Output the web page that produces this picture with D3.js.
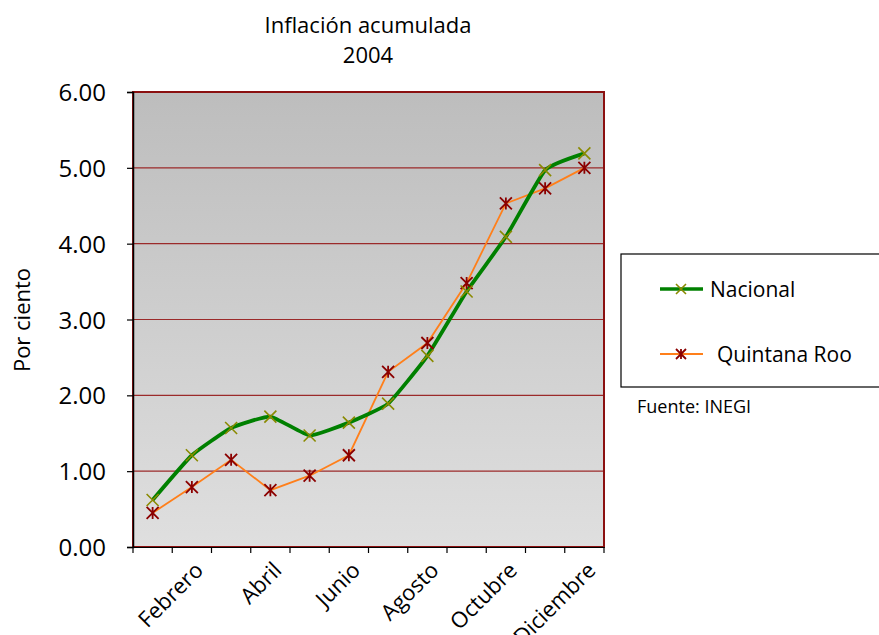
<!DOCTYPE html>
<html><head><meta charset="utf-8">
<script src="https://cdn.jsdelivr.net/npm/d3@7"></script>
<style>body{margin:0;background:#fff}svg text{font-family:"Open Sans","Liberation Sans",sans-serif;fill:#000}</style>
</head><body><svg id="c" width="879" height="635"></svg>
<script>
const months = ["Enero","Febrero","Marzo","Abril","Mayo","Junio","Julio","Agosto","Septiembre","Octubre","Noviembre","Diciembre"];
const nacional = [0.62,1.21,1.57,1.72,1.47,1.64,1.89,2.52,3.37,4.09,4.97,5.19];
const quintanaRoo = [0.45,0.79,1.15,0.75,0.94,1.21,2.31,2.69,3.48,4.53,4.73,5.00];
const yTicks = [0,1,2,3,4,5,6];
const shownLabels = ["Febrero","Abril","Junio","Agosto","Octubre","Diciembre"];

const svg = d3.select("#c");
const L=133,R=604,T=92,B=547;
const x = d3.scaleBand().domain(months).range([L,R]);
const y = d3.scaleLinear().domain([0,6]).range([B,T]);

const defs = svg.append("defs");
const g = defs.append("linearGradient").attr("id","bg").attr("x1",0).attr("y1",0).attr("x2",0).attr("y2",1);
g.append("stop").attr("offset","0%").attr("stop-color","#bdbdbd");
g.append("stop").attr("offset","100%").attr("stop-color","#dfdfdf");
svg.append("rect").attr("x",L).attr("y",T).attr("width",R-L).attr("height",B-T).attr("fill","url(#bg)");

// gridlines
svg.append("g").selectAll("line").data(yTicks.filter(d=>d>0&&d<6)).join("line")
 .attr("x1",L).attr("x2",R).attr("y1",d=>y(d)).attr("y2",d=>y(d))
 .attr("stroke","#9b2a2a").attr("stroke-width",1.2);
// border
svg.append("rect").attr("x",L).attr("y",T).attr("width",R-L).attr("height",B-T)
 .attr("fill","none").attr("stroke","#8b1010").attr("stroke-width",2);

// y axis
const ya = svg.append("g").attr("transform",`translate(${L},0)`)
 .call(d3.axisLeft(y).tickValues(yTicks).tickFormat(d3.format(".2f")).tickSize(6).tickPadding(21));
ya.select(".domain").attr("stroke","#000").attr("stroke-width",1.5);
ya.selectAll(".tick line").attr("stroke","#000").attr("stroke-width",1.2);
ya.selectAll(".tick text").style("font-size","24px").attr("dy","0.36em");

// x axis
const xa = svg.append("g").attr("transform",`translate(0,${B})`)
 .call(d3.axisBottom(x).tickSize(0).tickFormat(""));
xa.select(".domain").attr("stroke","#000").attr("stroke-width",1.2);
const edges = months.map(m=>x(m)).concat([R]);
xa.selectAll(".edge").data(edges).join("line").attr("class","edge")
 .attr("x1",d=>d).attr("x2",d=>d).attr("y1",0).attr("y2",6).attr("stroke","#000").attr("stroke-width",1.2);
xa.selectAll(".lbl").data(shownLabels).join("text").attr("class","lbl")
 .attr("transform",d=>`translate(${x(d)+x.bandwidth()/2+1},${13}) rotate(-45)`)
 .attr("text-anchor","end").attr("dy","0.75em").style("font-size","22px").text(d=>d);

const cx = m=>x(m)+x.bandwidth()/2;
// lines
svg.append("path").datum(quintanaRoo).attr("fill","none").attr("stroke","#ff7f1a").attr("stroke-width",1.8)
 .attr("d",d3.line().x((d,i)=>cx(months[i])).y(d=>y(d)));
svg.append("path").datum(nacional).attr("fill","none").attr("stroke","#008000").attr("stroke-width",3.8)
 .attr("d",d3.line().curve(d3.curveCardinal.tension(0.6)).x((d,i)=>cx(months[i])).y(d=>y(d)));

const s=6;
function xMark(sel,col){sel.append("path").attr("d",`M${-s},${-s}L${s},${s}M${-s},${s}L${s},${-s}`).attr("stroke",col).attr("stroke-width",1.6).attr("fill","none");}
function starMark(sel,col){sel.append("path").attr("d",`M${-s},${-s}L${s},${s}M${-s},${s}L${s},${-s}M0,${-s}L0,${s}`).attr("stroke",col).attr("stroke-width",1.8).attr("fill","none");}
svg.append("g").selectAll("g").data(quintanaRoo).join("g").attr("transform",(d,i)=>`translate(${cx(months[i])},${y(d)})`).call(starMark,"#8b0000");
svg.append("g").selectAll("g").data(nacional).join("g").attr("transform",(d,i)=>`translate(${cx(months[i])},${y(d)})`).call(xMark,"#8a8a00");

// title
svg.append("text").attr("x",368).attr("y",33).attr("text-anchor","middle").style("font-size","22px").text("Inflación acumulada");
svg.append("text").attr("x",368).attr("y",63).attr("text-anchor","middle").style("font-size","22px").text("2004");
svg.append("text").attr("transform","translate(30,320) rotate(-90)").attr("text-anchor","middle").style("font-size","22px").text("Por ciento");

// legend
svg.append("rect").attr("x",621).attr("y",254).attr("width",270).attr("height",133).attr("fill","#fff").attr("stroke","#000").attr("stroke-width",1.2);
const lg = svg.append("g");
lg.append("line").attr("x1",660).attr("x2",703).attr("y1",289).attr("y2",289).attr("stroke","#008000").attr("stroke-width",3.5);
lg.append("g").attr("transform","translate(681,289)").call(g2=>{g2.append("path").attr("d","M-5,-5L5,5M-5,5L5,-5").attr("stroke","#8a8a00").attr("stroke-width",1.6);});
lg.append("text").attr("x",710).attr("y",297).style("font-size","21px").text("Nacional");
lg.append("line").attr("x1",660).attr("x2",703).attr("y1",354).attr("y2",354).attr("stroke","#ff7f1a").attr("stroke-width",1.8);
lg.append("g").attr("transform","translate(681,354)").call(g2=>{g2.append("path").attr("d","M-5,-5L5,5M-5,5L5,-5M0,-5L0,5").attr("stroke","#8b0000").attr("stroke-width",1.8);});
lg.append("text").attr("x",717).attr("y",362).style("font-size","21px").text("Quintana Roo");
svg.append("text").attr("x",637).attr("y",413).style("font-size","18px").text("Fuente: INEGI");
</script></body></html>
